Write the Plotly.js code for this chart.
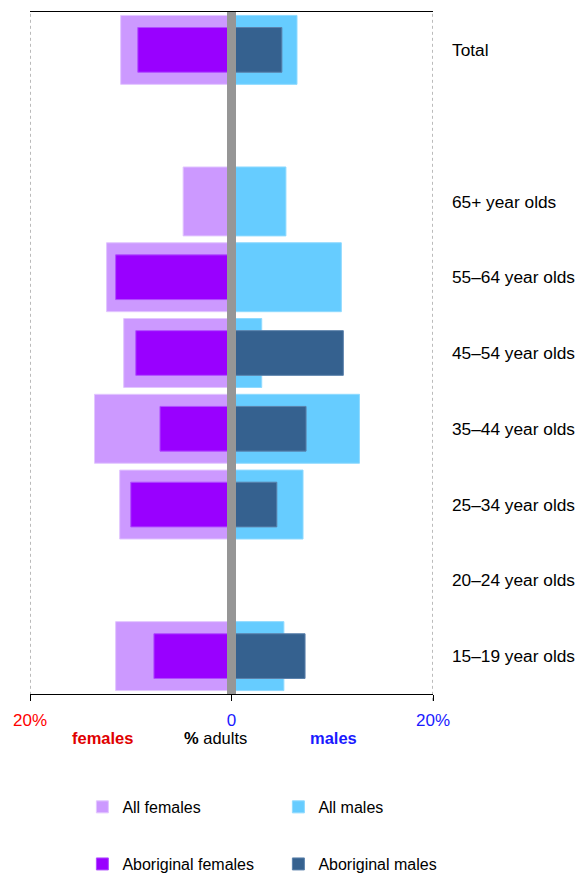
<!DOCTYPE html>
<html>
<head>
<meta charset="utf-8">
<script src="https://cdn.plot.ly/plotly-3.0.1.min.js"></script>
<style>html,body{margin:0;padding:0;background:#fff;}#chart{width:579px;height:874px;}</style>
</head>
<body>
<div id="chart"></div>
<script>
// Categories, top to bottom (the " " slot is an empty row)
var categories = ["Total", " ", "65+ year olds", "55–64 year olds", "45–54 year olds",
                  "35–44 year olds", "25–34 year olds", "20–24 year olds", "15–19 year olds"];
// Percent of adults (females plotted to the left)
var allFemales        = [11.0, null, 4.8, 12.4, 10.7, 13.6, 11.1, null, 11.5];
var allMales          = [6.5, null, 5.4, 10.9, 3.0, 12.7, 7.1, null, 5.2];
var aboriginalFemales = [9.3, null, null, 11.5, 9.5, 7.1, 10.0, null, 7.7];
var aboriginalMales   = [5.0, null, null, null, 11.1, 7.4, 4.5, null, 7.3];
var tickValues = [-20, 0, 20];
var tickLabels = ["20%", "0", "20%"];

var FONT = "Liberation Sans, Arial, sans-serif";
function neg(a){ return a.map(function(v){ return v == null ? null : -v; }); }

var traces = [
  {type:"bar", orientation:"h", name:"All females", y:categories, x:neg(allFemales), width:0.91,
   marker:{color:"#CC99FF", line:{color:"#E2C6FF", width:1}}, legend:"legend"},
  {type:"bar", orientation:"h", name:"All males", y:categories, x:allMales, width:0.91,
   marker:{color:"#66CCFF", line:{color:"#8FDAFF", width:1}}, legend:"legend"},
  {type:"bar", orientation:"h", name:"Aboriginal females", y:categories, x:neg(aboriginalFemales), width:0.59,
   marker:{color:"#9900FF", line:{color:"#B04DFF", width:1}}, legend:"legend2"},
  {type:"bar", orientation:"h", name:"Aboriginal males", y:categories, x:aboriginalMales, width:0.59,
   marker:{color:"#35618F", line:{color:"#5C82AC", width:1}}, legend:"legend2"}
];

var tickColors = ["#FF0000", "#1A1AFF", "#1A1AFF"];
var layout = {
  width:579, height:874,
  margin:{l:30, r:146, t:12, b:180, autoexpand:false},
  paper_bgcolor:"#fff", plot_bgcolor:"#fff",
  font:{family:FONT, size:17, color:"#000"},
  barmode:"overlay",
  showlegend:true,
  hovermode:false,
  xaxis:{range:[-20,20], tickmode:"array", tickvals:tickValues,
         ticktext:tickLabels.map(function(t,i){ return '<span style="color:'+tickColors[i]+'">'+t+'</span>'; }),
         ticks:"outside", ticklen:6, tickcolor:"#000", tickwidth:1,
         showline:true, linecolor:"#000", linewidth:1, mirror:true,
         showgrid:false, zeroline:false, fixedrange:true, ticklabelstandoff:5,
         tickfont:{family:FONT, size:17}},
  yaxis:{type:"category", categoryorder:"array", categoryarray:categories,
         range:[8.5,-0.5], side:"right", ticks:"", showline:false, showgrid:false,
         zeroline:false, ticklabelstandoff:18, fixedrange:true,
         tickfont:{family:FONT, size:17.3, color:"#000"}},
  shapes:[
    {type:"line", xref:"x", yref:"paper", x0:-20, x1:-20, y0:-0.01, y1:1, line:{color:"#777", width:1, dash:"dot"}, layer:"below"},
    {type:"line", xref:"x", yref:"paper", x0:20, x1:20, y0:-0.01, y1:1, line:{color:"#777", width:1, dash:"dot"}, layer:"below"},
    {type:"line", xref:"x", yref:"paper", x0:0, x1:0, y0:0, y1:1, line:{color:"#969696", width:9}, layer:"above"}
  ],
  annotations:[
    {xref:"x", yref:"paper", x:-12.8, y:-0.065, text:"<b>females</b>", showarrow:false,
     font:{family:FONT, size:16.5, color:"#E00000"}, xanchor:"center", yanchor:"middle"},
    {xref:"x", yref:"paper", x:-1.6, y:-0.065, text:"<b>%</b> adults", showarrow:false,
     font:{family:FONT, size:16.5, color:"#000"}, xanchor:"center", yanchor:"middle"},
    {xref:"x", yref:"paper", x:10.1, y:-0.065, text:"<b>males</b>", showarrow:false,
     font:{family:FONT, size:16.5, color:"#1A1AFF"}, xanchor:"center", yanchor:"middle"}
  ],
  legend:{orientation:"h", x:0.13, xanchor:"left", yref:"container", y:0.0767, yanchor:"middle",
          entrywidth:151, entrywidthmode:"pixels", traceorder:"normal",
          font:{family:FONT, size:16, color:"#000"}, bgcolor:"rgba(0,0,0,0)"},
  legend2:{orientation:"h", x:0.13, xanchor:"left", yref:"container", y:0.0114, yanchor:"middle",
          entrywidth:151, entrywidthmode:"pixels", traceorder:"normal",
          font:{family:FONT, size:16, color:"#000"}, bgcolor:"rgba(0,0,0,0)"}
};

Plotly.newPlot("chart", traces, layout, {displayModeBar:false, staticPlot:true});
</script>
</body>
</html>
